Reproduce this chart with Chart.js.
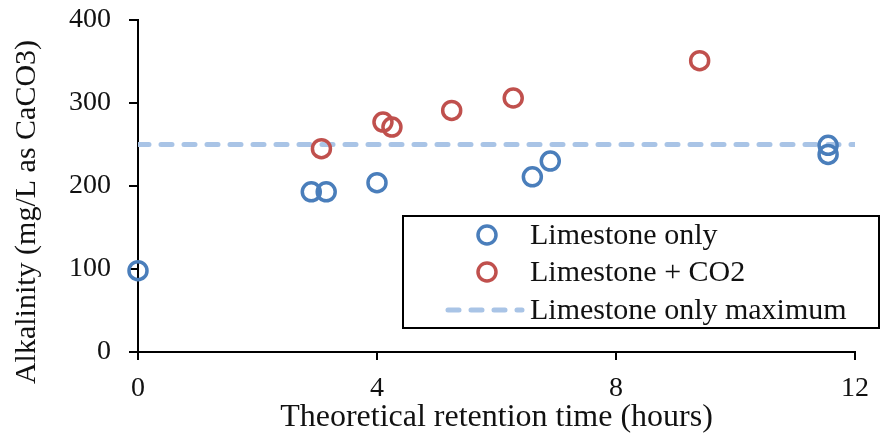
<!DOCTYPE html>
<html>
<head>
<meta charset="utf-8">
<script src="https://cdn.jsdelivr.net/npm/chart.js@4.4.1/dist/chart.umd.min.js"></script>
<style>
  html, body { margin: 0; padding: 0; background: #fff; }
  canvas { display: block; }
</style>
</head>
<body>
<canvas id="chart" width="881" height="438"></canvas>
<script>
// values
const limestoneX = [0, 2.9, 3.15, 4, 6.6, 6.9, 11.55, 11.55];
const limestoneY = [98, 193, 193, 204, 211, 230, 249, 238];
const co2X = [3.07, 4.1, 4.25, 5.25, 6.28, 9.4];
const co2Y = [245, 277, 271, 291, 306, 351];
const maxX = [0, 12];
const maxY = [250, 250];

const seriesNames = ['Limestone only', 'Limestone + CO2', 'Limestone only maximum'];
const xTitle = 'Theoretical retention time (hours)';
const yTitle = 'Alkalinity (mg/L as CaCO3)';

const BLUE = '#4a7ebb';
const RED = '#c0504d';
const LIGHT = '#a9c4e6';
const SERIF = "'Liberation Serif', 'Times New Roman', serif";

const toPoints = (xs, ys) => xs.map((x, i) => ({ x: x, y: ys[i] }));

// legend drawn inside the plot like the original
const boxLegend = {
  id: 'boxLegend',
  afterDraw(chart) {
    const ctx = chart.ctx;
    const ds = chart.data.datasets;
    const left = 403, top = 216, right = 879, bottom = 328;
    ctx.save();
    ctx.fillStyle = '#fff';
    ctx.fillRect(left, top, right - left, bottom - top);
    ctx.strokeStyle = '#000';
    ctx.lineWidth = 2;
    ctx.strokeRect(left, top, right - left, bottom - top);

    const rows = [235, 272, 310];
    ctx.font = '30px ' + SERIF;
    ctx.textBaseline = 'middle';
    ctx.textAlign = 'left';
    ds.forEach((d, i) => {
      const y = rows[i];
      ctx.strokeStyle = d.borderColor;
      ctx.lineWidth = d.borderWidth;
      if (d.type === 'line') {
        ctx.lineCap = 'round';
        ctx.setLineDash(d.borderDash);
        ctx.beginPath();
        ctx.moveTo(448, y);
        ctx.lineTo(522, y);
        ctx.stroke();
        ctx.setLineDash([]);
      } else {
        ctx.beginPath();
        ctx.arc(487, y, d.pointRadius, 0, Math.PI * 2);
        ctx.stroke();
      }
      ctx.fillStyle = '#111';
      ctx.fillText(d.label, 530, y + 1);
    });
    ctx.restore();
  }
};

// y title sits a little below the middle of the axis in the original
const yAxisTitle = {
  id: 'yAxisTitle',
  afterDraw(chart) {
    const ctx = chart.ctx;
    ctx.save();
    ctx.translate(27, 212);
    ctx.rotate(-Math.PI / 2);
    ctx.font = '30px ' + SERIF;
    ctx.fillStyle = '#111';
    ctx.textAlign = 'center';
    ctx.textBaseline = 'middle';
    ctx.fillText(yTitle, 0, 0);
    ctx.restore();
  }
};

new Chart(document.getElementById('chart'), {
  type: 'scatter',
  data: {
    datasets: [
      {
        label: seriesNames[0],
        data: toPoints(limestoneX, limestoneY),
        borderColor: BLUE,
        backgroundColor: 'rgba(0,0,0,0)',
        borderWidth: 3.5,
        pointRadius: 9,
        clip: false,
        order: 1
      },
      {
        label: seriesNames[1],
        data: toPoints(co2X, co2Y),
        borderColor: RED,
        backgroundColor: 'rgba(0,0,0,0)',
        borderWidth: 3.5,
        pointRadius: 9,
        clip: false,
        order: 2
      },
      {
        type: 'line',
        label: seriesNames[2],
        data: toPoints(maxX, maxY),
        borderColor: LIGHT,
        borderWidth: 5,
        borderDash: [11, 12],
        borderCapStyle: 'round',
        pointRadius: 0,
        fill: false,
        order: 3
      }
    ]
  },
  options: {
    responsive: false,
    animation: false,
    devicePixelRatio: 1,
    layout: { padding: { left: 0, right: 26, top: 20, bottom: 0 }, autoPadding: false },
    plugins: {
      legend: { display: false },
      tooltip: { enabled: false }
    },
    scales: {
      x: {
        type: 'linear',
        min: 0,
        max: 12,
        afterFit: s => { s.height = 86; s.paddingLeft = 0; s.paddingRight = 0; },
        border: { display: true, color: '#000', width: 2 },
        grid: { drawOnChartArea: false, drawTicks: true, tickLength: 8, color: '#000', lineWidth: 2 },
        ticks: { stepSize: 4, padding: 12, color: '#111', font: { family: SERIF, size: 28 } },
        title: { display: true, text: xTitle, color: '#111', padding: { top: 0, bottom: 1 }, font: { family: SERIF, size: 32 } }
      },
      y: {
        min: 0,
        max: 400,
        afterFit: s => { s.width = 138; s.paddingTop = 0; s.paddingBottom = 0; },
        border: { display: true, color: '#000', width: 2 },
        grid: { drawOnChartArea: false, drawTicks: true, tickLength: 9, color: '#000', lineWidth: 2 },
        ticks: { stepSize: 100, padding: 18, color: '#111', font: { family: SERIF, size: 28 } }
      }
    }
  },
  plugins: [boxLegend, yAxisTitle]
});
</script>
</body>
</html>
